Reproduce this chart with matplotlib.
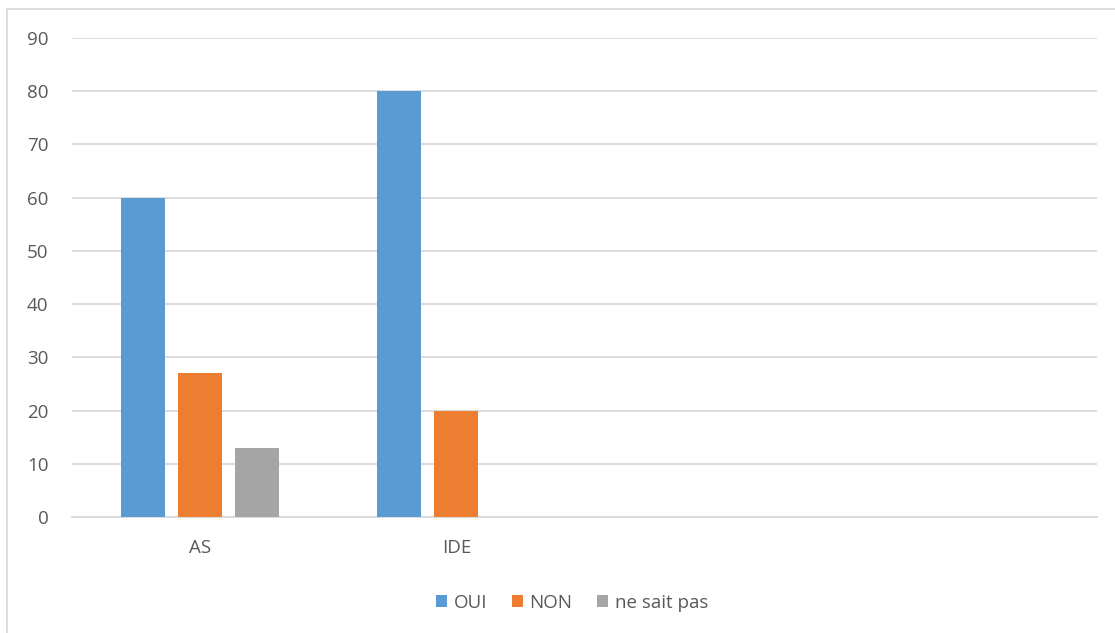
import matplotlib
matplotlib.use("Agg")
from matplotlib import pyplot as plt
from matplotlib.patches import Rectangle
import numpy as np

plt.rcParams['font.family'] = ['Open Sans', 'DejaVu Sans']

categories = ["AS", "IDE", "", ""]
series_names = ["OUI", "NON", "ne sait pas"]
oui = [60, 80, 0, 0]
non = [27, 20, 0, 0]
ne_sait_pas = [13, 0, 0, 0]
colors = ['#5b9bd5', '#ed7d31', '#a5a5a5']
yticks = [0, 10, 20, 30, 40, 50, 60, 70, 80, 90]

fig = plt.figure(figsize=(11.15, 6.33), dpi=100)
ax = fig.add_axes([72/1115, 1 - 517/633, 1025/1115, 479/633])

x = np.arange(len(categories))
width = 0.172
step = 0.2225
for i, (vals, name, c) in enumerate(zip([oui, non, ne_sait_pas], series_names, colors)):
    xs, hs = [], []
    for xi, v in zip(x, vals):
        if v > 0:
            xs.append(xi + (i - 1) * step)
            hs.append(v)
    ax.bar(xs, hs, width=width, color=c, label=name, zorder=3)

ax.set_xlim(-0.5, len(categories) - 0.5)
ax.set_ylim(0, 90)
ax.set_yticks(yticks)
ax.set_xticks(x)
ax.set_xticklabels(categories)
ax.grid(True, axis='y', color='#d9d9d9', linewidth=1.3, zorder=0)
for s in ['top', 'right', 'left']:
    ax.spines[s].set_visible(False)
ax.spines['bottom'].set_color('#d9d9d9')
ax.spines['bottom'].set_linewidth(1.3)
ax.tick_params(axis='both', length=0, labelsize=13.5, labelcolor='#595959')
ax.tick_params(axis='y', pad=17)
ax.tick_params(axis='x', pad=16)

leg = fig.legend(loc='center', bbox_to_anchor=(572/1115, 1 - 603/633), ncol=3,
                 frameon=False, fontsize=13.5, handlelength=0.6, handleheight=0.6,
                 columnspacing=1.3, handletextpad=0.35)
for t in leg.get_texts():
    t.set_color('#595959')

# outer chart frame
fig.patches.append(Rectangle((7/1115, -0.1), 1.2, 1 - 9/633 + 0.1,
                             transform=fig.transFigure, fill=False,
                             edgecolor='#d9d9d9', linewidth=1.3))

fig.savefig('out.png', dpi=100)
